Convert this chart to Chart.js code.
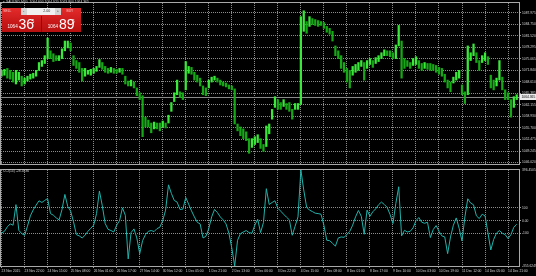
<!DOCTYPE html>
<html lang="en">
<head>
<meta charset="UTF-8">
<title>XAUUSD,M30</title>
<script src="https://cdn.jsdelivr.net/npm/chart.js"></script>
<style>
    html, body { margin: 0; padding: 0; background: #000; }
    #wrap { position: relative; width: 536px; height: 276px; overflow: hidden; background: #000; font-family: 'Liberation Sans', Arial, sans-serif; }
    #price-canvas { position: absolute; left: 0; top: 0; }
    #cci-canvas { position: absolute; left: 0; top: 167px; }
    .tiny { position: absolute; color: #cfcfcf; font-size: 3.4px; line-height: 1; white-space: nowrap; }

    /* one click trading panel */
    #panel { position: absolute; left: 2px; top: 8px; width: 79px; height: 23.5px; background: linear-gradient(#e42c2c, #c81818 60%, #b81010); }
    #panel div { position: absolute; line-height: 1; white-space: nowrap; }
    #panel .cap { font-size: 3.3px; color: #f6c0c0; top: 1.6px; }
    #panel .lot { left: 18.7px; top: 0; width: 40.3px; height: 7px; background: #f0f0f0; }
    #panel .lot .btn { top: 0; width: 6px; height: 7px; background: #d4d4d4; color: #555; font-size: 4px; text-align: center; line-height: 6.5px; }
    #panel .lot .val { left: 22.5px; top: 1.8px; font-size: 3.6px; color: #333; }
    #panel .sep { left: 39px; top: 8px; width: 1px; height: 15.5px; background: #8a0c0c; }
    #panel .small { font-family: 'Liberation Sans Narrow', 'Liberation Sans', sans-serif; font-size: 4.6px; color: #fff; top: 17.4px; }
    #panel .big { font-family: 'Liberation Sans Narrow', 'Liberation Sans', sans-serif; font-size: 14px; color: #fff; top: 9.4px; }
    #panel .sup { font-family: 'Liberation Sans Narrow', 'Liberation Sans', sans-serif; font-size: 4.6px; color: #fff; top: 11.5px; }
</style>
</head>
<body>
<div id="wrap">
    <canvas id="price-canvas" width="536" height="167"></canvas>
    <canvas id="cci-canvas" width="536" height="109"></canvas>

    <div class="tiny" style="left:3px; top:1.2px;">&#9662; XAUUSD,M30&nbsp; 1064.600 1064.920 1063.800 1064.365</div>
    <div class="tiny" style="left:3px; top:169.5px;">CCI(14) -28.4536</div>

    <div id="panel">
        <div class="cap" style="left:1.3px;">SELL</div>
        <div class="lot">
            <div class="btn" style="left:0;">-</div>
            <div class="val">2.00</div>
            <div class="btn" style="right:0;">+</div>
        </div>
        <div class="cap" style="left:64.5px;">BUY</div>
        <div class="sep"></div>
        <div class="small" style="left:5.5px;">1064</div>
        <div class="big" style="left:16.4px;">36</div>
        <div class="sup" style="left:29.8px;">5</div>
        <div class="small" style="left:45.8px;">1064</div>
        <div class="big" style="left:57px;">89</div>
        <div class="sup" style="left:70px;">5</div>
    </div>
</div>

<script>
    // XAUUSD M30, 23 Nov - 14 Dec 2015, one sample every 4 bars (2 hours)
    const priceHigh = [
        1071.84, 1072.12, 1072.39, 1071.84, 1071.30, 1071.84, 1071.30, 1070.20, 1069.66, 1070.20,
        1070.75, 1071.02, 1071.84, 1074.03, 1074.58, 1075.95, 1080.87, 1077.31, 1076.49, 1075.95,
        1075.95, 1077.86, 1080.05, 1080.05, 1079.50, 1075.95, 1074.58, 1074.03, 1072.39, 1072.39,
        1071.84, 1072.12, 1072.39, 1072.94, 1074.85, 1074.03, 1072.94, 1072.39, 1072.67, 1072.39,
        1072.12, 1072.39, 1072.39, 1070.20, 1068.84, 1069.11, 1068.56, 1066.92, 1065.56, 1064.74,
        1058.72, 1057.90, 1057.08, 1057.35, 1057.08, 1057.08, 1057.63, 1057.08, 1059.27, 1062.82,
        1065.56, 1069.11, 1065.83, 1065.56, 1074.30, 1072.94, 1072.67, 1071.30, 1070.48, 1069.66,
        1067.47, 1066.92, 1069.11, 1069.93, 1070.20, 1069.66, 1069.11, 1068.56, 1068.29, 1067.74,
        1067.47, 1066.65, 1056.81, 1055.99, 1055.44, 1054.62, 1052.71, 1052.71, 1053.25, 1053.80,
        1052.71, 1051.07, 1056.26, 1056.81, 1060.91, 1064.46, 1063.64, 1062.82, 1063.64, 1062.55,
        1062.82, 1060.91, 1062.55, 1062.55, 1086.88, 1088.52, 1085.51, 1086.88, 1086.34, 1086.06,
        1085.79, 1085.51, 1085.24, 1084.15, 1083.60, 1082.78, 1078.68, 1077.31, 1075.95, 1074.03,
        1072.39, 1071.84, 1072.94, 1073.49, 1074.03, 1074.58, 1074.03, 1074.58, 1075.13, 1074.58,
        1075.40, 1075.95, 1076.77, 1077.59, 1077.31, 1077.31, 1076.77, 1078.95, 1084.42, 1080.05,
        1075.13, 1074.58, 1074.03, 1075.13, 1075.67, 1074.58, 1073.76, 1074.03, 1073.76, 1073.76,
        1073.49, 1073.21, 1072.67, 1072.39, 1070.75, 1069.11, 1068.56, 1069.93, 1071.30, 1071.84,
        1067.74, 1065.83, 1078.68, 1076.77, 1079.23, 1076.77, 1074.58, 1075.95, 1076.77, 1075.67,
        1070.48, 1069.11, 1069.66, 1074.58, 1069.93, 1066.38, 1065.56, 1063.64, 1064.46, 1065.01
    ];
    const priceLow = [
        1070.20, 1070.48, 1069.66, 1069.38, 1068.56, 1068.02, 1069.11, 1067.47, 1068.02, 1068.84,
        1069.38, 1069.66, 1070.20, 1071.84, 1072.94, 1073.76, 1075.13, 1075.13, 1074.30, 1074.58,
        1074.58, 1075.13, 1077.31, 1078.13, 1077.31, 1073.21, 1072.39, 1071.30, 1068.84, 1070.20,
        1070.75, 1070.48, 1071.02, 1071.57, 1072.67, 1072.12, 1071.30, 1071.02, 1071.30, 1071.02,
        1071.02, 1071.30, 1070.75, 1068.02, 1067.47, 1067.47, 1066.92, 1064.74, 1063.64, 1053.25,
        1055.99, 1055.99, 1054.35, 1055.44, 1055.44, 1054.89, 1055.99, 1055.71, 1057.08, 1060.36,
        1063.10, 1065.01, 1064.19, 1063.64, 1066.38, 1071.02, 1070.75, 1069.11, 1068.56, 1067.47,
        1065.01, 1064.74, 1066.92, 1068.56, 1069.11, 1068.56, 1067.74, 1067.47, 1067.20, 1066.65,
        1066.38, 1056.81, 1054.89, 1053.53, 1052.71, 1052.16, 1048.61, 1050.25, 1051.07, 1051.61,
        1049.97, 1049.15, 1050.50, 1054.07, 1058.17, 1061.46, 1060.91, 1060.91, 1061.73, 1060.91,
        1060.36, 1058.17, 1060.91, 1060.91, 1062.28, 1082.78, 1082.23, 1084.15, 1084.69, 1084.42,
        1084.15, 1084.42, 1083.60, 1082.51, 1081.96, 1080.05, 1075.95, 1075.13, 1072.39, 1071.30,
        1068.56, 1066.92, 1070.48, 1071.30, 1071.84, 1072.94, 1069.11, 1072.39, 1073.49, 1072.67,
        1073.76, 1074.30, 1075.13, 1075.95, 1075.95, 1075.67, 1075.13, 1075.13, 1078.68, 1069.66,
        1072.39, 1072.94, 1072.39, 1073.21, 1073.49, 1072.39, 1071.84, 1072.39, 1072.12, 1071.84,
        1071.84, 1071.30, 1070.75, 1070.20, 1068.56, 1066.92, 1065.83, 1068.29, 1069.11, 1069.66,
        1065.01, 1062.55, 1065.01, 1074.58, 1075.95, 1074.03, 1071.84, 1074.03, 1074.58, 1073.49,
        1066.92, 1066.38, 1067.47, 1069.11, 1066.38, 1063.64, 1063.64, 1058.72, 1061.46, 1063.64
    ];
    const cciValues = [
        -97, -84, -49, -26, -36, 125, -76, -102, -115, -44,
        37, 84, 121, 155, 142, 158, 173, 55, 42, 21,
        6, 87, 205, 111, 74, -10, -110, -120, -136, -115,
        -84, -60, -36, 55, 232, 116, -23, -68, -78, -89,
        -36, 0, 100, 42, -300, -94, -65, -136, -259, -157,
        -110, -84, -78, -86, -63, -52, 0, 82, 280, 213,
        158, 145, 87, 90, 181, 129, 76, 29, -13, -26,
        -136, -123, -63, 29, 87, 63, 29, 6, -26, -99,
        -215, -355.62, -154, -102, -89, -78, -94, -99, -36, 11,
        -94, -15, 250, 126, 142, 155, 97, 74, 50, 27,
        6, -115, -44, 29, 396.45, 240, 105, 82, 71, 58,
        55, 50, -36, -154, -157, -178, -200, -136, -128, -131,
        -110, -84, -36, 29, 79, 34, -107, 82, 34, 69,
        92, 124, 145, 126, 103, 48, -23, 134, 265, -120,
        -76, -89, -84, -57, 0, 24, -13, -21, -13, -133,
        -70, -39, -84, -120, -128, -259, -128, -36, 21, -60,
        -160, 29, 171, 137, 124, 37, 16, 50, 37, -94,
        -230, -147, -97, -78, -99, -110, -141, -110, -52, -28.45
    ];

    // time axis: a label every 32 bars (every 8 samples)
    const timeTickIndex = [0, 8, 16, 24, 32, 40, 48, 56, 64, 72, 80, 88, 96, 104, 112, 120, 128, 136, 144, 152, 160, 168, 176];
    const timeLabels = [
        '23 Nov 2015', '23 Nov 22:00', '24 Nov 15:00', '25 Nov 08:00', '26 Nov 01:00', '26 Nov 17:00',
        '27 Nov 14:00', '30 Nov 12:00', '1 Dec 05:00', '1 Dec 21:00', '2 Dec 13:00', '3 Dec 06:00',
        '3 Dec 22:00', '4 Dec 15:00', '7 Dec 08:00', '8 Dec 01:00', '8 Dec 17:00', '9 Dec 10:00',
        '10 Dec 03:00', '10 Dec 19:00', '11 Dec 12:00', '14 Dec 05:00', '14 Dec 21:00'
    ];
    const priceTicks = [1087.975, 1084.750, 1081.520, 1078.295, 1075.065, 1071.840, 1068.610,
                        1065.385, 1062.155, 1058.930, 1055.700, 1052.475, 1049.245, 1046.020];
    const cciTicks = [396.4505, 100, 0, -100, -355.6249];
    const cciTickLabels = ['396.4505', '100', '0.00', '-100', '-355.6249'];
    const cciLevels = [100, 0, -100];
    const bidPrice = 1064.365;

    const X_MIN = -0.2, X_MAX = 179.8;
    const PRICE_MIN = 1045.60, PRICE_MAX = 1090.71;
    const CCI_MIN = -355.6249, CCI_MAX = 396.4505;

    const textColor = '#d4d4d4';
    const gridColor = '#8c8c8c';
    const gridDash = [1, 1];
    const frameColor = '#a8a8a8';
    const upColor = '#3ae83a';
    const downColor = '#16a816';
    const axisFont = { family: "'Liberation Sans', Arial, sans-serif", size: 3.3 };

    const framePlugin = {
        id: 'frame',
        afterDraw(chart) {
            const { ctx, chartArea: a } = chart;
            ctx.save();
            ctx.strokeStyle = frameColor;
            ctx.lineWidth = 1;
            ctx.strokeRect(Math.round(a.left) - 0.5, Math.round(a.top) - 0.5,
                           Math.round(a.right - a.left) + 1, Math.round(a.bottom - a.top) + 1);
            ctx.restore();
        }
    };

    const bidLinePlugin = {
        id: 'bidLine',
        beforeDatasetsDraw(chart) {
            const { ctx, chartArea: a } = chart;
            const y = Math.round(chart.scales.y.getPixelForValue(bidPrice)) + 0.5;
            ctx.save();
            ctx.strokeStyle = '#8a8a8a';
            ctx.lineWidth = 1;
            ctx.beginPath();
            ctx.moveTo(a.left, y);
            ctx.lineTo(a.right, y);
            ctx.stroke();
            ctx.restore();
        },
        afterDraw(chart) {
            const { ctx, chartArea: a } = chart;
            const y = Math.round(chart.scales.y.getPixelForValue(bidPrice));
            ctx.save();
            ctx.fillStyle = '#ececec';
            ctx.fillRect(a.right + 1, y - 3, 16, 6);
            ctx.fillStyle = '#000';
            ctx.font = "3.3px 'Liberation Sans', Arial, sans-serif";
            ctx.textBaseline = 'middle';
            ctx.fillText(bidPrice.toFixed(3), a.right + 2.5, y + 0.2);
            ctx.restore();
        }
    };

    function timeAxis(showLabels) {
        return {
            type: 'linear',
            min: X_MIN,
            max: X_MAX,
            offset: false,
            afterBuildTicks: scale => { scale.ticks = timeTickIndex.map(v => ({ value: v })); },
            afterFit: scale => { scale.height = showLabels ? 10 : 0; },
            ticks: {
                display: showLabels,
                color: textColor,
                font: axisFont,
                padding: 1.5,
                align: 'start',
                autoSkip: false,
                maxRotation: 0,
                minRotation: 0,
                callback: (v, i) => timeLabels[i]
            },
            grid: { color: gridColor, lineWidth: 1, offset: false, drawTicks: showLabels, tickLength: 2, tickColor: '#9a9a9a' },
            border: { display: false, dash: gridDash }
        };
    }

    // price bars (high-low)
    const barColors = priceHigh.map((h, i) => {
        if (i === 0) return upColor;
        const mid = (h + priceLow[i]) / 2;
        const prev = (priceHigh[i - 1] + priceLow[i - 1]) / 2;
        return mid >= prev ? upColor : downColor;
    });

    new Chart(document.getElementById('price-canvas'), {
        type: 'bar',
        data: {
            datasets: [{
                data: priceHigh.map((h, i) => ({ x: i, y: [priceLow[i], h] })),
                backgroundColor: barColors,
                borderWidth: 0,
                barThickness: 1.6,
                grouped: false
            }]
        },
        options: {
            responsive: false,
            animation: false,
            events: [],
            layout: { padding: { left: 1, top: 1, right: 0, bottom: 1 } },
            plugins: { legend: { display: false }, tooltip: { enabled: false } },
            scales: {
                x: timeAxis(false),
                y: {
                    position: 'right',
                    min: PRICE_MIN,
                    max: PRICE_MAX,
                    afterBuildTicks: scale => { scale.ticks = priceTicks.map(v => ({ value: v })); },
                    afterFit: scale => { scale.width = 17; },
                    ticks: { color: textColor, font: axisFont, padding: 1, callback: v => v.toFixed(3) },
                    grid: { color: gridColor, lineWidth: 1, tickLength: 2, tickColor: '#9a9a9a' },
                    border: { display: false, dash: gridDash }
                }
            }
        },
        plugins: [framePlugin, bidLinePlugin]
    });

    // CCI(14) sub window
    new Chart(document.getElementById('cci-canvas'), {
        type: 'line',
        data: {
            datasets: [{
                data: cciValues.map((v, i) => ({ x: i, y: v })),
                borderColor: '#20b2aa',
                borderWidth: 1,
                pointRadius: 0,
                tension: 0
            }]
        },
        options: {
            responsive: false,
            animation: false,
            events: [],
            layout: { padding: { left: 1, top: 1, right: 0, bottom: 0 } },
            plugins: { legend: { display: false }, tooltip: { enabled: false } },
            scales: {
                x: timeAxis(true),
                y: {
                    position: 'right',
                    min: CCI_MIN,
                    max: CCI_MAX,
                    afterBuildTicks: scale => { scale.ticks = cciTicks.map(v => ({ value: v })); },
                    afterFit: scale => { scale.width = 17; },
                    ticks: { color: textColor, font: axisFont, padding: 1, callback: (v, i) => cciTickLabels[i] },
                    grid: {
                        lineWidth: 1,
                        color: ctx => cciLevels.includes(ctx.tick.value) ? gridColor : 'transparent',
                        tickColor: ctx => cciLevels.includes(ctx.tick.value) ? '#9a9a9a' : 'transparent',
                        tickLength: 2
                    },
                    border: { display: false, dash: gridDash }
                }
            }
        },
        plugins: [framePlugin]
    });
</script>
</body>
</html>
